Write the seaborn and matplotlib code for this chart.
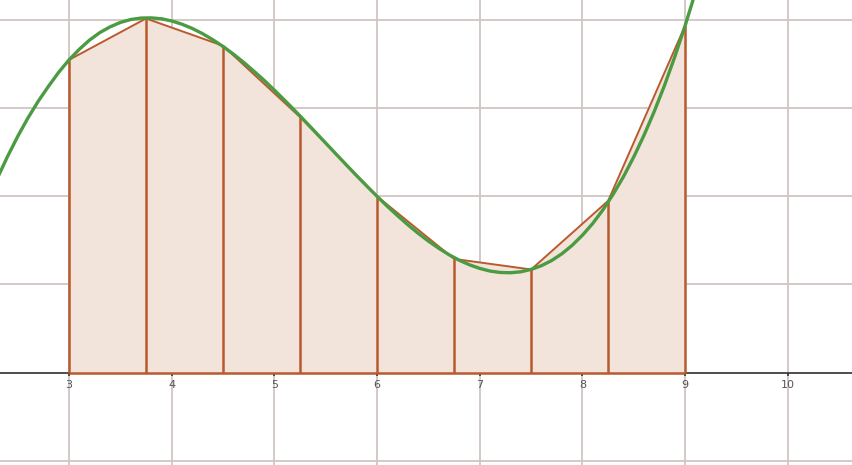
import numpy as np
import pandas as pd
import matplotlib
matplotlib.use("Agg")
import matplotlib.pyplot as plt
import seaborn as sns

# trapezoid nodes
node_x = [3.0, 3.75, 4.5, 5.25, 6.0, 6.75, 7.5, 8.25, 9.0]
node_y = [3.55, 4.02, 3.71, 2.90, 2.00, 1.29, 1.17, 1.95, 3.94]

# points along the green curve
curve_x = [2.3, 2.4, 2.5, 2.6, 2.7, 2.8, 2.9, 3.0, 3.1, 3.2, 3.3, 3.4, 3.5,
           3.6, 3.7, 3.8, 3.9, 4.0, 4.1, 4.2, 4.3, 4.4, 4.5, 4.6, 4.7, 4.8,
           4.9, 5.0, 5.1, 5.2, 5.3, 5.4, 5.5, 5.6, 5.7, 5.8, 5.9, 6.0, 6.1,
           6.2, 6.3, 6.4, 6.5, 6.6, 6.7, 6.8, 6.9, 7.0, 7.1, 7.2, 7.3, 7.4,
           7.5, 7.6, 7.7, 7.8, 7.9, 8.0, 8.1, 8.2, 8.3, 8.4, 8.5, 8.6, 8.7,
           8.8, 8.9, 9.0, 9.1]
curve_y = [2.20, 2.45, 2.68, 2.89, 3.08, 3.25, 3.41, 3.55, 3.67, 3.775,
           3.86, 3.925, 3.975, 4.008, 4.025, 4.027, 4.017, 3.992, 3.955,
           3.907, 3.848, 3.779, 3.702, 3.616, 3.523, 3.422, 3.318, 3.206,
           3.091, 2.973, 2.852, 2.729, 2.605, 2.481, 2.358, 2.236, 2.117,
           2.00, 1.887, 1.780, 1.677, 1.581, 1.492, 1.411, 1.338, 1.275,
           1.223, 1.182, 1.152, 1.136, 1.133, 1.144, 1.171, 1.213, 1.272,
           1.349, 1.445, 1.560, 1.693, 1.849, 2.027, 2.226, 2.450, 2.697,
           2.968, 3.265, 3.590, 3.941, 4.320]

x_ticks = [3, 4, 5, 6, 7, 8, 9, 10]
y_grid = [-1, 0, 1, 2, 3, 4]

BROWN = "#b95a2e"
FILL = "#f3e4db"
GREEN = "#4b9b42"
GRID = "#d0c6c4"

sns.set_theme(style="white")
fig = plt.figure(figsize=(8.53, 4.65), dpi=100)
ax = fig.add_axes([0, 0, 1, 1])
ax.set_xlim(2.328, 10.634)
ax.set_ylim(-1.05, 4.23)
ax.axis("off")

# grid
for gx in x_ticks:
    ax.axvline(gx, color=GRID, lw=1.3, zorder=0)
for gy in y_grid:
    ax.axhline(gy, color=GRID, lw=1.3, zorder=0)

# x axis
ax.axhline(0, color="#444444", lw=1.3, zorder=1)
ax.vlines(x_ticks, -0.04, 0.0, color="#333333", lw=1.2, zorder=1)
for tx in x_ticks:
    ax.text(tx, -0.09, str(tx), ha="center", va="top", fontsize=8,
            color="#555555", zorder=5)

# trapezoids
ax.fill_between(node_x, 0, node_y, color=FILL, lw=0, zorder=2)
ax.vlines(node_x, 0, node_y, color=BROWN, lw=1.8, zorder=3)
ax.hlines(0, node_x[0], node_x[-1], color=BROWN, lw=1.8, zorder=3)
sns.lineplot(x=node_x, y=node_y, color=BROWN, lw=1.4, sort=False, ax=ax,
             zorder=3)

# curve
sns.lineplot(x=curve_x, y=curve_y, color=GREEN, lw=2.4, sort=False, ax=ax,
             zorder=4, solid_joinstyle="round")

fig.savefig("out.png", dpi=100)
